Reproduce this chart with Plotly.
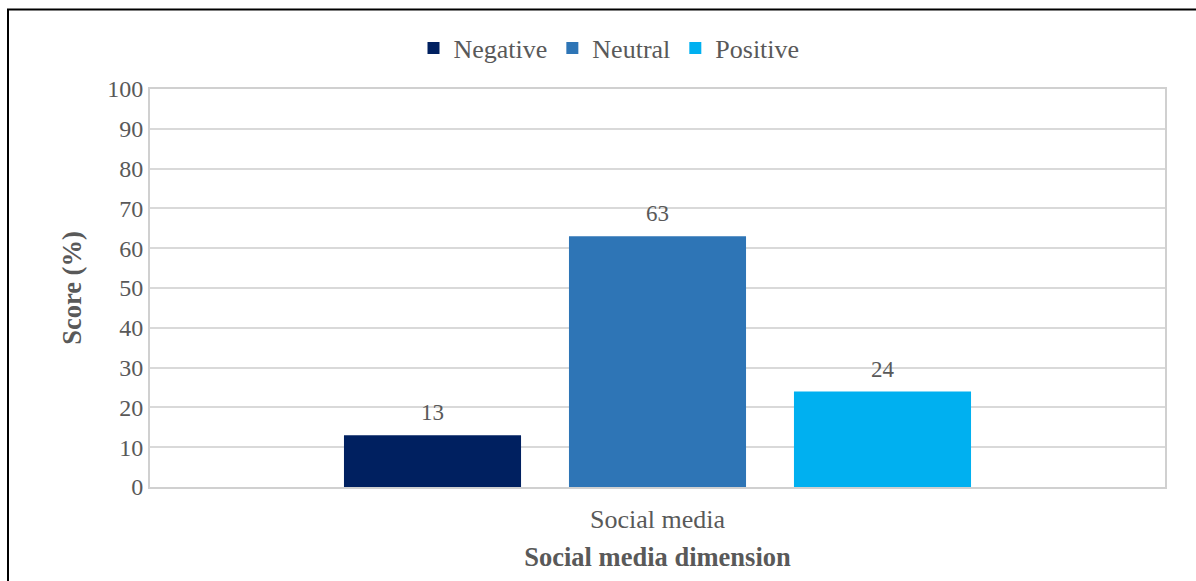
import plotly.graph_objects as go

categories = ["Social media"]
series_names = ["Negative", "Neutral", "Positive"]
negative = [13]
neutral = [63]
positive = [24]
colors = ["#002060", "#2E75B6", "#00B0F0"]
y_ticks = [0, 10, 20, 30, 40, 50, 60, 70, 80, 90, 100]

FONT = "Liberation Serif, Times New Roman, serif"
GRAY = "#595959"

fig = go.Figure()
for name, vals, col in zip(series_names, [negative, neutral, positive], colors):
    fig.add_trace(go.Bar(
        name=name, x=categories, y=vals, offsetgroup=name,
        marker=dict(color=col, line=dict(width=0)),
    ))
# value labels, grouped alongside the bars
for name, vals in zip(series_names, [negative, neutral, positive]):
    fig.add_trace(go.Scatter(
        x=categories, y=vals, offsetgroup=name, mode="markers+text",
        marker=dict(size=13, opacity=0), text=[str(v) for v in vals],
        textposition="top center", textfont=dict(family=FONT, size=23, color=GRAY),
        showlegend=False, hoverinfo="skip", cliponaxis=False,
    ))

W, H = 1196, 581
ml, mr, mt, mb = 150, 31, 89, 94
pw, ph = W - ml - mr, H - mt - mb

fig.update_layout(
    width=W, height=H,
    margin=dict(l=ml, r=mr, t=mt, b=mb),
    paper_bgcolor="white", plot_bgcolor="white",
    barmode="group", bargap=0.335, bargroupgap=0.213,
    scattermode="group", scattergap=0.335,
    font=dict(family=FONT, size=24, color=GRAY),
    legend=dict(orientation="h", x=(609 - ml) / pw, xanchor="center", y=1 + (89 - 48) / ph,
                yanchor="middle", font=dict(family=FONT, size=26, color=GRAY),
                itemwidth=30, traceorder="normal"),
    xaxis=dict(showline=True, linecolor="#d0d0d0", linewidth=2, mirror=True,
               ticks="", ticklabelstandoff=8, tickfont=dict(family=FONT, size=26, color=GRAY),
               title=dict(text="<b>Social media dimension</b>", standoff=14,
                          font=dict(family=FONT, size=26.5, color=GRAY))),
    yaxis=dict(range=[0, 100], tickvals=y_ticks, showgrid=True, gridcolor="#d9d9d9", gridwidth=2,
               showline=True, linecolor="#d0d0d0", linewidth=2, mirror=True, zeroline=False,
               ticks="", tickfont=dict(family=FONT, size=24, color=GRAY),
               title=dict(text="<b>Score (%)</b>", standoff=18,
                          font=dict(family=FONT, size=26.5, color=GRAY))),
)

# outer frame around the chart
fig.add_shape(type="rect", xref="paper", yref="paper",
              x0=(8 - ml) / pw, x1=(W + 20 - ml) / pw,
              y0=-(mb + 20) / ph, y1=1 + (mt - 9.5) / ph,
              line=dict(color="black", width=2), fillcolor="rgba(0,0,0,0)", layer="above")

fig.write_html("out.html")
